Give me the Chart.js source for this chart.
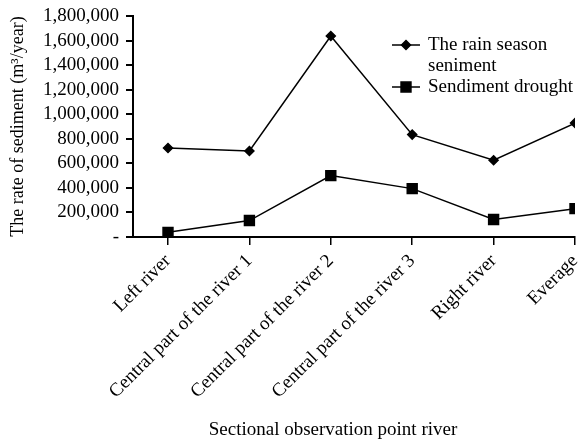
<!DOCTYPE html>
<html>
<head>
<meta charset="utf-8">
<script src="https://cdn.jsdelivr.net/npm/chart.js@4/dist/chart.umd.min.js"></script>
<style>
  html, body { margin: 0; padding: 0; background: #fff; overflow: hidden; }
  #wrap { width: 579px; height: 444px; }
</style>
</head>
<body>
<div id="wrap"><canvas id="chart"></canvas></div>
<script>
// data
const categories = ['Left river', 'Central part of the river 1', 'Central part of the river 2',
  'Central part of the river 3', 'Right river', 'Everage'];
const rainSeason = [725000, 700000, 1637000, 834000, 625000, 928000];
const drought = [38000, 134000, 500000, 394000, 142000, 231000];
const yTicks = [0, 200000, 400000, 600000, 800000, 1000000, 1200000, 1400000, 1600000, 1800000];
const seriesNames = [['The rain season', 'seniment'], ['Sendiment drought']];
const xTitle = 'Sectional observation point river';

const FONT = '"Liberation Serif", "Times New Roman", serif';

/** Turn a value array into {x, y} points on the category index. */
function pts(vals) {
  return vals.map((v, i) => ({ x: i, y: v }));
}

/** Legend inside the plot (first label wrapped) plus the off-centre x title. */
const annotations = {
  id: 'annotations',
  afterDatasetsDraw(chart) {
    const ctx = chart.ctx;
    ctx.save();
    ctx.font = '19px ' + FONT;
    ctx.textBaseline = 'middle';
    ctx.textAlign = 'left';
    ctx.strokeStyle = '#000';
    ctx.fillStyle = '#000';
    let y = 45;
    chart.data.datasets.forEach((d, i) => {
      ctx.lineWidth = 1.5;
      ctx.beginPath(); ctx.moveTo(392, y); ctx.lineTo(420, y); ctx.stroke();
      Chart.helpers.drawPoint(ctx, { pointStyle: d.pointStyle, radius: d.pointRadius, borderWidth: 1 }, 406, y);
      seriesNames[i].forEach(line => { ctx.fillText(line, 428, y); y += 21; });
    });
    ctx.textAlign = 'center';
    ctx.fillText(xTitle, 333, 430);
    ctx.restore();
  },
};

new Chart(document.getElementById('chart'), {
  type: 'line',
  data: {
    datasets: [
      { label: seriesNames[0].join(' '), data: pts(rainSeason), borderColor: '#000', backgroundColor: '#000',
        borderWidth: 1.5, pointStyle: 'rectRot', pointRadius: 4.5, tension: 0 },
      { label: seriesNames[1].join(' '), data: pts(drought), borderColor: '#000', backgroundColor: '#000',
        borderWidth: 1.5, pointStyle: 'rect', pointRadius: 7, tension: 0 },
    ],
  },
  options: {
    responsive: true, maintainAspectRatio: false, animation: false, devicePixelRatio: 1,
    layout: { autoPadding: false, padding: { top: 16, right: 0, left: 0, bottom: 0 } },
    plugins: { legend: { display: false }, tooltip: { enabled: false } },
    scales: {
      x: {
        type: 'linear', min: -0.43, max: 5,
        afterBuildTicks: s => { s.ticks = categories.map((_, i) => ({ value: i })); },
        afterFit: s => { s.height = 207; s.paddingRight = 4; },
        ticks: { color: '#000', font: { family: FONT, size: 19 }, minRotation: 45, maxRotation: 45,
          autoSkip: false, padding: 5, callback: v => categories[v] },
        grid: { drawOnChartArea: false, drawTicks: true, tickLength: 8, color: '#000', lineWidth: 1.5 },
        border: { color: '#000', width: 2 },
      },
      y: {
        min: 0, max: 1800000,
        afterBuildTicks: s => { s.ticks = yTicks.map(v => ({ value: v })); },
        afterFit: s => { s.width = 133; s.paddingTop = 16; },
        ticks: { color: '#000', font: { family: FONT, size: 19 }, padding: 7, autoSkip: false,
          callback: v => v === 0 ? '-' : v.toLocaleString('en-US') },
        grid: { drawOnChartArea: false, drawTicks: true, tickLength: 7, color: '#000', lineWidth: 2 },
        border: { color: '#000', width: 2 },
        title: { display: true, text: 'The rate of sediment (m³/year)', color: '#000',
          font: { family: FONT, size: 18 }, padding: { top: 7, bottom: 0 } },
      },
    },
  },
  plugins: [annotations],
});
</script>
</body>
</html>
